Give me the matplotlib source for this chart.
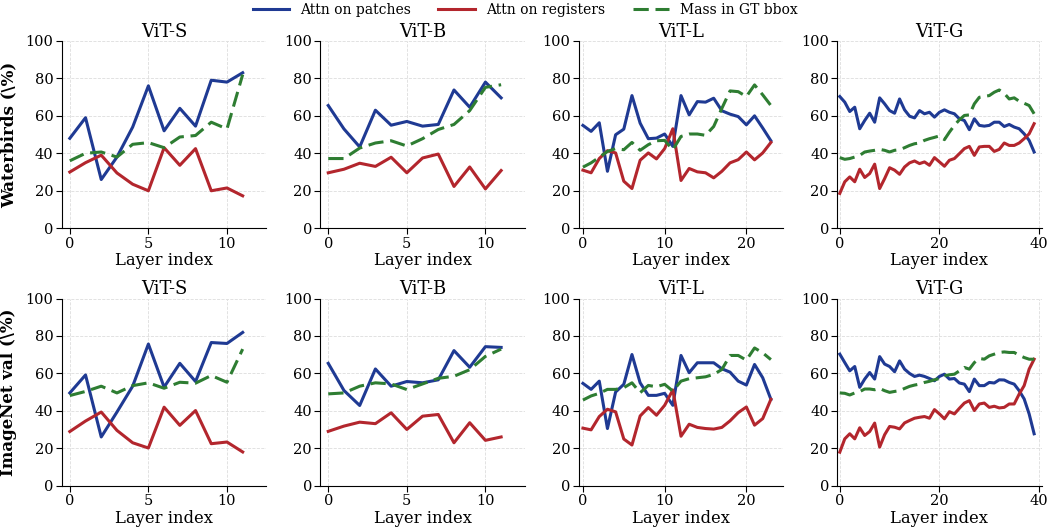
import numpy as np
import matplotlib
matplotlib.use("Agg")
import matplotlib.pyplot as plt

plt.rcParams['font.family'] = ['DejaVu Serif']

models = ["ViT-S", "ViT-B", "ViT-L", "ViT-G"]
datasets = ["Waterbirds", "ImageNet val"]

# attention on patch tokens (%), per layer
patches = {
    ("Waterbirds", "ViT-S"): [48, 59, 26, 38, 54, 76, 52, 64, 54.5, 79, 78, 83],
    ("Waterbirds", "ViT-B"): [65.5, 53, 43.4, 63, 55, 57, 54.5, 55.4, 73.8, 64.6, 78, 69.6],
    ("Waterbirds", "ViT-L"): [54.9, 51.7, 56.3, 30.4, 49.9, 52.9, 70.8, 56.1, 47.8, 48.1, 50.3, 43.7,
                              70.8, 60.5, 67.6, 67.3, 69.4, 62.7, 60.9, 59.6, 55.2, 60, 53.5, 46.7],
    ("Waterbirds", "ViT-G"): [70.3, 67.3, 62.3, 64.6, 53.1, 57.5, 61.4, 56.6, 69.6, 66.4,
                              62.8, 61.4, 69, 63.2, 59.8, 58.9, 62.8, 61.1, 61.9, 59.3,
                              61.9, 63.2, 61.9, 61.1, 58.4, 57.5, 52.6, 58.4, 54.9, 54.5,
                              54.9, 56.6, 56.6, 54.3, 55.4, 54, 53.1, 50.4, 46.9, 40.7],
    ("ImageNet val", "ViT-S"): [49.6, 59.2, 26.1, 39.4, 53.2, 75.7, 52.7, 65.4, 55.7, 76.5, 76, 81.9],
    ("ImageNet val", "ViT-B"): [65.4, 50.9, 42.9, 62.4, 53.2, 55.7, 55, 56.6, 72.2, 63.3, 74.3, 73.9],
    ("ImageNet val", "ViT-L"): [54.7, 51.5, 55.9, 30.6, 50.1, 54.2, 70.1, 55, 48.3, 48.3, 49.4, 43,
                                69.6, 60.4, 65.7, 65.7, 65.7, 62.5, 60.7, 55.9, 53.8, 64.8, 57.7, 46.2],
    ("ImageNet val", "ViT-G"): [70.3, 65.8, 61.4, 63.7, 52.6, 57, 60.5, 57, 69, 65,
                                63.7, 60.9, 66.7, 62.3, 60, 58.4, 59.1, 58.4, 57.3, 56.1,
                                58.4, 59.6, 57, 57.3, 54.9, 54.3, 50.3, 57, 53.5, 53.5,
                                55.2, 54.9, 56.6, 56.5, 55.2, 54.3, 50.8, 46.4, 38.4, 27.8],
}

# attention on register tokens (%), per layer
registers = {
    ("Waterbirds", "ViT-S"): [30, 35, 39, 29.5, 23.5, 20, 43, 33.6, 42.5, 20, 21.5, 17.3],
    ("Waterbirds", "ViT-B"): [29.6, 31.5, 34.7, 33, 37.9, 29.6, 37.5, 39.6, 22.3, 32.7, 21, 30.8],
    ("Waterbirds", "ViT-L"): [31, 29.6, 37.2, 41.4, 40.2, 25.1, 21.2, 36.3, 40.2, 37, 42.5, 53.1,
                              25.5, 31.9, 30.1, 29.6, 26.9, 30.4, 34.9, 36.6, 40.7, 36.5, 40.2, 45.8],
    ("Waterbirds", "ViT-G"): [18.6, 24.8, 27.4, 24.8, 31.5, 27.1, 29.2, 34.2, 21.2, 26.5,
                              32.3, 31, 28.8, 32.7, 34.9, 35.9, 34.5, 35.4, 33.6, 37.7,
                              35.4, 33.1, 36.3, 37.2, 39.8, 42.5, 43.7, 38.9, 43.4, 43.7,
                              43.7, 41, 42.1, 45.5, 44.2, 44.2, 45.5, 47.8, 50.4, 55.8],
    ("ImageNet val", "ViT-S"): [29, 34.6, 39.4, 29.6, 23, 20.2, 42, 32.3, 40.2, 22.5, 23.4, 18.1],
    ("ImageNet val", "ViT-B"): [29.1, 31.9, 34, 33.2, 39, 30.1, 37.2, 38.1, 23, 33.7, 24.3, 26.1],
    ("ImageNet val", "ViT-L"): [30.8, 29.9, 37, 40.9, 39.5, 25, 21.8, 37.3, 41.8, 37.7, 43, 51.2,
                                26.5, 32.9, 31.2, 30.6, 30.3, 31.2, 34.7, 39.1, 42.1, 32.4, 35.9, 46.2],
    ("ImageNet val", "ViT-G"): [18, 25.1, 27.8, 25.1, 31, 26.9, 29, 33.5, 20.7, 27.3,
                                31.7, 31.3, 30.4, 33.6, 34.9, 36.1, 36.6, 37, 36.1, 40.7,
                                38.4, 35.8, 39.6, 38.4, 41.4, 44.2, 45.5, 40.2, 43.7, 44.2,
                                41.9, 42.5, 41.6, 41.9, 43.7, 43.7, 49, 53.5, 62.3, 67.6],
}

# attention mass inside the ground-truth box (%), per layer
bbox_mass = {
    ("Waterbirds", "ViT-S"): [36, 40, 40.7, 38, 44.8, 45.7, 43, 48.7, 49.5, 56.6, 53, 82],
    ("Waterbirds", "ViT-B"): [37.2, 37.2, 42.8, 45.5, 46.7, 43.9, 47.8, 52.7, 55.4, 62.8, 75.2, 76.6],
    ("Waterbirds", "ViT-L"): [32.6, 34.9, 37.9, 41, 42.5, 41.9, 45.8, 41.6, 44.6, 46.7, 46.9, 41.9,
                              49, 50.3, 50.3, 49.6, 54.3, 64, 73.3, 72.9, 70.3, 76.5, 71.2, 65.5],
    ("Waterbirds", "ViT-G"): [37.7, 36.8, 37.2, 38, 38.9, 40.7, 41.2, 41.6, 42.1, 41.6,
                              40.7, 41.6, 41.9, 43, 44.2, 45.1, 45.5, 46.9, 47.8, 48.5,
                              49.3, 47.3, 51.3, 54.9, 57.9, 60.2, 60.5, 66.4, 69.9, 70.4,
                              70.8, 72.6, 73.8, 72, 69, 69.6, 67.8, 66.7, 65.5, 61.1],
    ("ImageNet val", "ViT-S"): [48.2, 50.4, 53.2, 49.6, 53.5, 55, 52.1, 55.3, 54.8, 58.9, 55.3, 73],
    ("ImageNet val", "ViT-B"): [49.1, 49.6, 53.2, 55, 54.4, 51.4, 54.4, 57.4, 58.5, 62, 69.1, 73],
    ("ImageNet val", "ViT-L"): [45.8, 48, 49.4, 51.5, 51.5, 52.4, 55, 49.7, 53.6, 52.9, 54.2, 50.6,
                                55.9, 57.2, 57.7, 58.2, 59.5, 62.1, 69.6, 69.6, 67.1, 73.6, 71, 67.4],
    ("ImageNet val", "ViT-G"): [49.6, 49.4, 48.5, 49.6, 50.3, 51.7, 51.7, 51.3, 52, 50.8,
                                49.9, 50.4, 50.8, 52, 53.1, 53.8, 54.3, 55.2, 55.8, 56.6,
                                57.3, 58.8, 59.3, 59.6, 61.4, 63.2, 62.3, 65.8, 68, 67.6,
                                69.4, 70.3, 71.2, 71.5, 71.2, 71.2, 69.7, 68.5, 67.6, 67.6],
}

c_patch = "#1f3a93"
c_reg = "#b3262d"
c_box = "#2e7d32"

fig, axes = plt.subplots(2, 4, figsize=(10.5, 5.31), dpi=100)
fig.subplots_adjust(left=0.059, right=0.992, top=0.923, bottom=0.085,
                    wspace=0.265, hspace=0.375)

for r, ds in enumerate(datasets):
    for c, m in enumerate(models):
        ax = axes[r, c]
        p = patches[(ds, m)]
        layers = np.arange(len(p))
        ax.plot(layers, p, color=c_patch, lw=2.2, label="Attn on patches")
        ax.plot(layers, registers[(ds, m)], color=c_reg, lw=2.2, label="Attn on registers")
        ax.plot(layers, bbox_mass[(ds, m)], color=c_box, lw=2.2, ls=(0, (5, 2.2)),
                label="Mass in GT bbox")
        ax.set_ylim(0, 100)
        ax.set_xlim(-0.5, len(p) + 0.5)
        ax.set_yticks([0, 20, 40, 60, 80, 100])
        ax.set_title(m, fontsize=13, pad=3)
        ax.grid(True, ls="--", lw=0.6, color="#dddddd")
        ax.spines["top"].set_visible(False)
        ax.spines["right"].set_visible(False)
        ax.tick_params(labelsize=10.5, length=4, pad=2)
        ax.set_xlabel("Layer index", fontsize=11.8, labelpad=1)
        if c == 0:
            ax.set_ylabel(ds + r" (\%)", fontsize=12, fontweight="bold", labelpad=6)

handles, labels = axes[0, 0].get_legend_handles_labels()
fig.legend(handles, labels, loc="upper center", ncol=3, frameon=False,
           bbox_to_anchor=(0.5, 1.018), fontsize=10, handlelength=2.6,
           columnspacing=2.0)

fig.savefig("out.png", dpi=100)
